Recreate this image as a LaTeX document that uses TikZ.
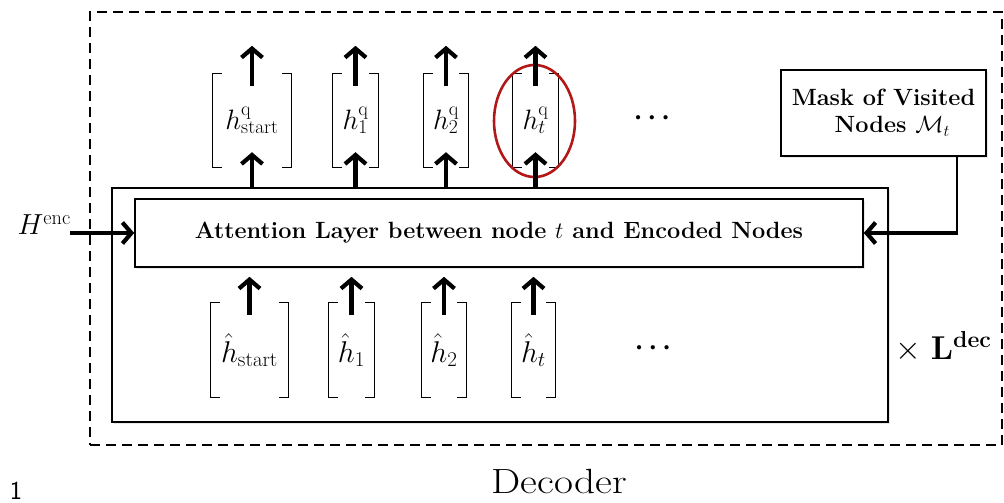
\RequirePackage{fix-cm}
\documentclass[tikz,border=0pt]{standalone}
\usepackage{graphicx}
\usetikzlibrary{arrows.meta,shapes.geometric,shadows,calc}
\newcommand\vecbrackets[1]{%
  \draw[brk] ([xshift=9pt]#1.north west) -- (#1.north west) -- (#1.south west) -- ([xshift=9pt]#1.south west);
  \draw[brk] ([xshift=-9pt]#1.north east) -- (#1.north east) -- (#1.south east) -- ([xshift=-9pt]#1.south east);}
\definecolor{focusred}{RGB}{178,24,24}
\begin{document}
\begin{tikzpicture}[x=1pt,y=-1pt,
  box/.style={draw, line width=1.6pt, fill=white, inner sep=0pt,
    drop shadow={opacity=0.18, shadow xshift=1.5pt, shadow yshift=-1.8pt}},
  vecbox/.style={minimum width=#1, inner sep=0pt, font=\fontsize{28}{32}\selectfont},
  embbox/.style={minimum width=#1, inner sep=0pt, font=\fontsize{30}{34}\selectfont},
  brk/.style={line width=1.3pt},
  arr/.style={line width=4.5pt, -{Straight Barb[length=9pt,width=21pt,line width=4.2pt]}},
  thinline/.style={line width=1.6pt},
  lbl/.style={font=\fontsize{23.5}{27}\selectfont\bfseries, align=center},
  dotsfont/.style={font=\fontsize{27}{31}\selectfont\boldmath}]
\useasboundingbox (0,0) rectangle (1004,503);

% decoder frame and layer stack
\node[draw, dashed, dash pattern=on 10pt off 6pt, line width=1.6pt,
  minimum width=912pt, minimum height=433pt] (decoder) at (546,228.5) {};
\node[box, minimum width=776pt, minimum height=234pt] (stack) at (500,305) {};
\node[box, lbl, minimum width=728pt, minimum height=68pt] (attn) at (499,233)
  {Attention Layer between node $t$ and Encoded Nodes};
\node[box, lbl, minimum width=205pt, minimum height=86pt] (mask) at (883.5,113)
  {Mask of Visited\\[0pt]\ \ Nodes $\mathcal{M}_t$};

% query vectors
\node[vecbox=78pt, minimum height=93pt] (qs) at (252,120.5) {$h^{\mathrm{q}}_{\mathrm{start}}$};
\node[vecbox=45pt, minimum height=93pt] (q1) at (355.5,120.5) {$h^{\mathrm{q}}_{1}$};
\node[vecbox=44pt, minimum height=93pt] (q2) at (446,120.5) {$h^{\mathrm{q}}_{2}$};
\node[vecbox=45pt, minimum height=93pt] (qt) at (535.5,120.5) {$h^{\mathrm{q}}_{t}$};
\node[dotsfont] (qdots) at (652,118) {$\cdots$};

% embedded nodes
\node[embbox=77pt, minimum height=94pt] (es) at (249.5,350) {$\hat{h}_{\mathrm{start}}$};
\node[embbox=45pt, minimum height=94pt] (e1) at (351.5,350) {$\hat{h}_{1}$};
\node[embbox=44pt, minimum height=94pt] (e2) at (444,350) {$\hat{h}_{2}$};
\node[embbox=43pt, minimum height=94pt] (et) at (533.5,350) {$\hat{h}_{t}$};
\node[dotsfont] (edots) at (653,348) {$\cdots$};

\foreach \v in {qs,q1,q2,qt,es,e1,e2,et} {\vecbrackets{\v}}

% highlighted current node
\node[draw=focusred, line width=2.6pt, ellipse, minimum width=81pt, minimum height=112pt] (focus) at (534.5,121) {};

% arrows through the query vectors
\foreach \v in {qs,q1,q2,qt} {
  \draw[arr] (\v.south |- stack.north) -- ([yshift=15pt]\v.south);
  \draw[arr] ([yshift=-12pt]\v.north) -- ([yshift=28pt]\v.north);
}
% arrows from the embedded nodes into the attention layer
\foreach \v in {es,e1,e2,et} {
  \draw[arr] ([yshift=-12pt]\v.north) -- ([yshift=26pt]\v.north);
}

% encoder input
\node[font=\fontsize{29}{33}\selectfont, anchor=east, inner sep=1pt] (henc) at (72,225) {$H^{\mathrm{enc}}$};
\coordinate (hencstart) at (70,233);
\draw[arr] (hencstart) -- (attn.west);

% mask input
\coordinate (maskdrop) at ([xshift=-30pt]mask.south east);
\coordinate (maskturn) at (maskdrop |- attn.east);
\draw[thinline] (maskdrop) -- (maskturn);
\draw[arr] ([xshift=1pt]maskturn) -- (attn.east);

% repetition and title
\node[font=\fontsize{33}{37}\selectfont, anchor=west, inner sep=0pt] (reps) at (895,347) {$\times\ \mathbf{L}^{\mathbf{dec}}$};
\node[font=\fontsize{35}{40}\selectfont] (title) at (559,481) {\scalebox{1.18}[1]{Decoder}};
\node[font=\fontsize{26}{30}\selectfont\sffamily] (pagenum) at (16,491) {1};
\end{tikzpicture}
\end{document}
